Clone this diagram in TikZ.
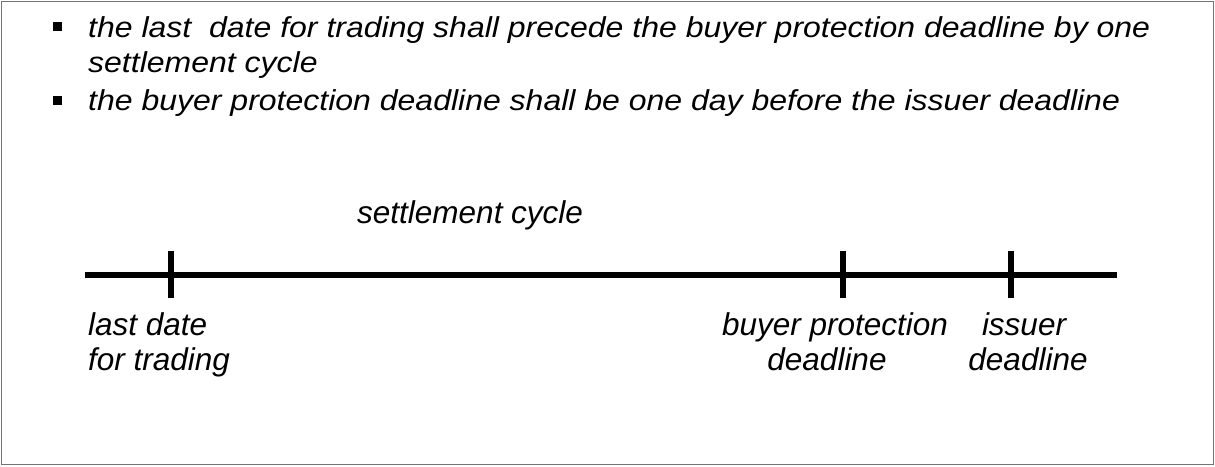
\documentclass[tikz,border=0pt]{standalone}
\usepackage{fontspec}
\setmainfont{Liberation Sans}
\newcommand{\squash}[1]{\scalebox{1}[0.9]{#1}}
\begin{document}
\begin{tikzpicture}[x=1pt,y=-1pt,
  txt/.style={inner sep=0pt,font=\fontsize{31.5}{35}\selectfont\itshape},
  btxt/.style={inner sep=0pt,font=\fontsize{32}{35}\selectfont\itshape},
  bul/.style={fill=black,minimum width=9pt,minimum height=8.5pt,inner sep=0pt},
  axis/.style={line width=5.5pt},
  tick/.style={line width=5.5pt}]
\useasboundingbox (0,0) rectangle (1215,466);
\draw[black!55,line width=1.5pt] (1.5,1.5) rectangle (1213.5,464.5);
% bullets
\node[bul] (b1) at (57.5,26.5) {};
\node[bul] (b2) at (57.5,100.5) {};
\node[btxt,anchor=base west] (l1) at (88,37) {\squash{the last\ \ date for trading shall precede the buyer protection deadline by one}};
\node[btxt,anchor=base west] (l2) at (88,72) {\squash{settlement cycle}};
\node[btxt,anchor=base west] (l3) at (88,110) {\squash{the buyer protection deadline shall be one day before the issuer deadline}};
% timeline
\coordinate (a0) at (85,275);
\coordinate (a1) at (1117,275);
\draw[axis] (a0) -- (a1);
\coordinate (t1a) at (171,251); \coordinate (t1b) at (171,298);
\coordinate (t2a) at (843,251); \coordinate (t2b) at (843,298);
\coordinate (t3a) at (1011,251); \coordinate (t3b) at (1011,298);
\draw[tick] (t1a) -- (t1b);
\draw[tick] (t2a) -- (t2b);
\draw[tick] (t3a) -- (t3b);
\node[txt,anchor=base west] (sc) at (357,223) {settlement cycle};
\node[txt,anchor=base west] (ld1) at (88,335) {last date};
\node[txt,anchor=base west] (ld2) at (88,370) {for trading};
\node[txt,anchor=base] (bp1) at (835,335) {buyer protection};
\node[txt,anchor=base] (bp2) at (827,370) {deadline};
\node[txt,anchor=base] (is1) at (1024,335) {issuer};
\node[txt,anchor=base] (is2) at (1028,370) {deadline};
\end{tikzpicture}
\end{document}
